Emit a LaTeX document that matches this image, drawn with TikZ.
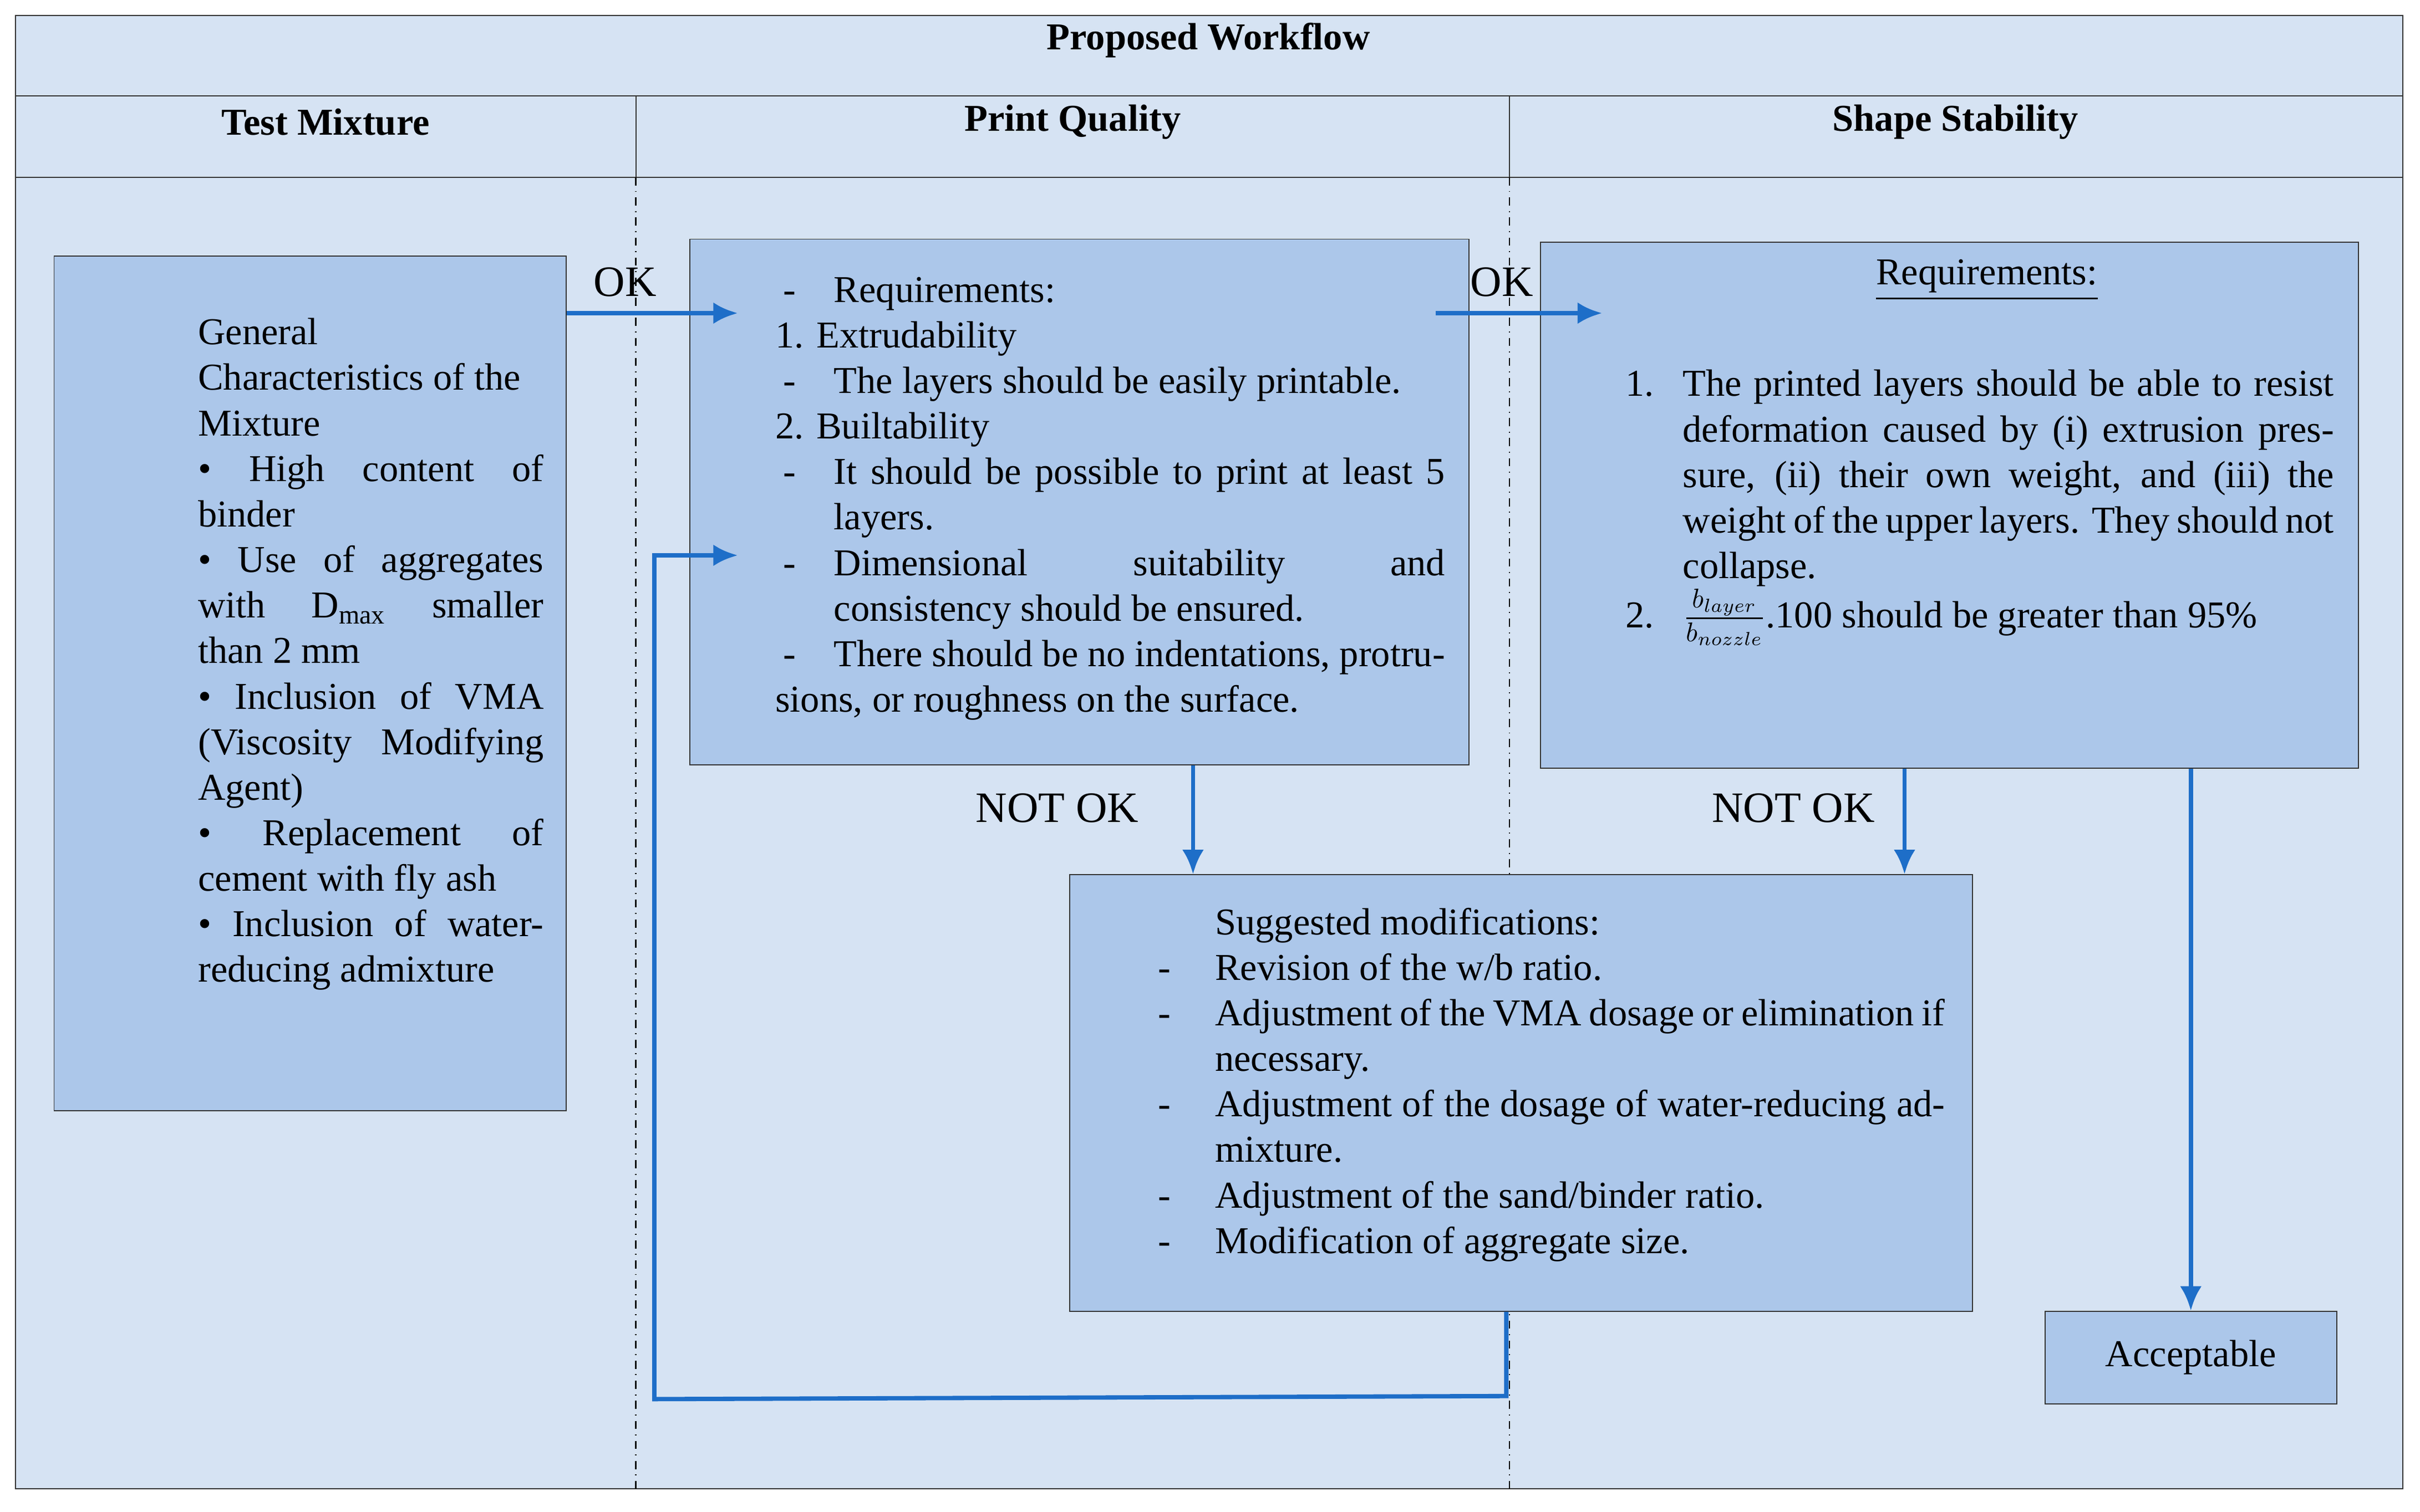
\documentclass[tikz,border=0pt]{standalone}
\usepackage{fontspec}
\setmainfont{Liberation Serif}
\usepackage{amsmath}
\usetikzlibrary{arrows.meta,positioning,calc}
\definecolor{bgblue}{RGB}{214,227,243}
\definecolor{boxblue}{RGB}{172,199,234}
\definecolor{arrblue}{RGB}{30,110,200}
\newcommand{\itm}[2]{\par\noindent\hangindent=0.76cm\hangafter=1\makebox[0.76cm][l]{\hspace{0.1cm}#1}#2}
\newcommand{\mitm}[2]{\par\noindent\hangindent=0.74cm\hangafter=1\makebox[0.74cm][l]{#1}#2}

\begin{document}
\begin{tikzpicture}[x=0.02cm, y=-0.02cm,
    box/.style={rectangle, draw=black!80, fill=boxblue, inner sep=0},
    txt/.style={anchor=north west, inner sep=0, align=justify, font=\fontsize{14}{16.8}\selectfont},
    head/.style={font=\fontsize{14}{16.8}\selectfont\bfseries},
    lbl/.style={font=\fontsize{16}{18}\selectfont},
    flow/.style={draw=arrblue, line width=1.6pt, -{Latex[length=9pt,width=8pt]}},
    sep/.style={dash dot, line width=0.6pt}
    ]
    \useasboundingbox (0,0) rectangle (1568,980);
    % frame and headers
    \draw[fill=bgblue, draw=black!80] (10,10) rectangle (1557,965);
    \draw[black!80] (10,62) -- (1557,62) (10,115) -- (1557,115);
    \draw[black!80] (412,62) -- (412,115) (978,62) -- (978,115);
    \draw[sep] (412,115) -- (412,965) (978,115) -- (978,965);
    \node[head] (title) at (783,26) {Proposed Workflow};
    \node[head] (hMix) at (211,79) {Test Mixture};
    \node[head] (hPrint) at (695,79) {Print Quality};
    \node[head] (hShape) at (1267,79) {Shape Stability};

    % boxes
    \node[box, minimum width=6.64cm, minimum height=11.08cm] (mix) at (201,443) {};
    \node[box, minimum width=10.1cm, minimum height=6.82cm] (print) at (699.5,325.5) {};
    \node[box, minimum width=10.6cm, minimum height=6.82cm] (shape) at (1263,327.5) {};
    \node[box, minimum width=11.7cm, minimum height=5.66cm] (mods) at (985.5,708.5) {};
    \node[box, minimum width=3.78cm, minimum height=1.2cm] (accept) at (1419.5,880)
        {\fontsize{14}{16.8}\selectfont Acceptable};

    % texts
    \node[txt, text width=4.48cm] (mixText) at (128,206) {%
        General\newline Characteristics of the\newline Mixture\newline
        \textbullet{} High content of\linebreak binder\newline
        \textbullet{} Use of aggregates\linebreak with D\textsubscript{max} smaller\linebreak than 2 mm\newline
        \hspace{2pt}\textbullet{} Inclusion of VMA\linebreak (Viscosity Modifying\linebreak Agent)\newline
        \textbullet{} Replacement of\linebreak cement with fly ash\newline
        \hspace{2pt}\textbullet{} Inclusion of water-\linebreak reducing admixture};
    \node[txt, text width=8.68cm] (printText) at (502,166) {%
        \itm{-}{Requirements:}
        \par\noindent 1. Extrudability
        \itm{-}{The layers should be easily printable.}
        \par\noindent 2. Builtability
        \itm{-}{It should be possible to print at least 5 layers.}
        \itm{-}{Dimensional suitability and\linebreak consistency should be ensured.}
        \itm{-}{There should be no indentations, protrusions, or roughness on the surface.}};
    \node[txt, text width=3cm, align=center] (reqTitle) at (1212,168) {\underline{Requirements:}};
    \node[txt, text width=9.18cm] (shapeText) at (1053,227) {%
        \mitm{1.}{The printed layers should be able to resist deformation caused by (i) extrusion pressure, (ii) their own weight, and (iii) the weight of the upper layers. They should not collapse.}
        \mitm{2.}{$\frac{b_{layer}}{b_{nozzle}}$.100 should be greater than 95\%}};
    \node[txt, text width=10.2cm] (modsText) at (750,576) {%
        \par\noindent\hspace{0.74cm}Suggested modifications:
        \mitm{-}{Revision of the w/b ratio.}
        \mitm{-}{Adjustment of the VMA dosage or elimination if necessary.}
        \mitm{-}{Adjustment of the dosage of water-reducing admixture.}
        \mitm{-}{Adjustment of the sand/binder ratio.}
        \mitm{-}{Modification of aggregate size.}};

    % connectors
    \coordinate (okA) at (478,203);
    \coordinate (okB) at (1038,203);
    \coordinate (loopIn) at (478,360);
    \draw[flow] (mix.east |- okA) -- (okA);
    \draw[flow] (print.east |- okB) ++(-22,0) -- (okB);
    \draw[flow] (print.south -| 773,0) -- (mods.north -| 773,0);
    \draw[flow] (shape.south -| 1234,0) -- (mods.north -| 1234,0);
    \draw[flow] (shape.south -| accept.north) -- (accept.north);
    \draw[flow] (mods.south -| 976,0) -- (976,905) -- (424,907) -- (424,360) -- (loopIn);
    \node[lbl] (okOne) at (405,183) {OK};
    \node[lbl] (okTwo) at (973,183) {OK};
    \node[lbl] (nokOne) at (685,524) {NOT OK};
    \node[lbl] (nokTwo) at (1162,524) {NOT OK};
\end{tikzpicture}
\end{document}
